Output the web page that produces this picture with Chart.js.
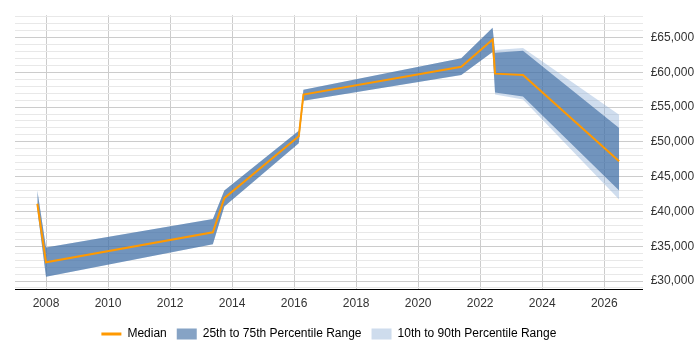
<!DOCTYPE html>
<html>
<head>
<meta charset="utf-8">
<script src="https://cdn.jsdelivr.net/npm/chart.js@4/dist/chart.umd.min.js"></script>
<style>
  html, body { margin: 0; padding: 0; background: #fff; }
  #wrap { width: 700px; height: 350px; position: relative; }
</style>
</head>
<body>
<div id="wrap"><canvas id="c" width="700" height="350"></canvas></div>
<script>
// Data
const years = [2007.72, 2008.0, 2013.38, 2013.75, 2016.15, 2016.30, 2021.39, 2022.40, 2022.48, 2023.38, 2026.48];
const median = [41100, 32700, 37000, 41900, 50800, 56800, 60800, 64700, 59800, 59600, 47200];
const p25 = [40200, 30600, 35300, 40700, 49800, 55900, 59600, 62900, 57100, 56500, 43000];
const p75 = [43000, 34800, 38900, 43000, 51600, 57500, 62000, 66400, 62800, 63100, 52000];
const p10 = [40200, 30600, 35300, 40700, 49800, 55900, 59600, 62900, 56800, 56100, 41700];
const p90 = [43000, 34800, 38900, 43000, 51600, 57500, 62000, 66400, 63200, 63500, 53900];
const xTicks = [2008, 2010, 2012, 2014, 2016, 2018, 2020, 2022, 2024, 2026];
const legendLabels = ['Median', '25th to 75th Percentile Range', '10th to 90th Percentile Range'];

const ORANGE = '#ff9900';
const DARK = 'rgba(39,91,151,0.56)';
const LIGHT = 'rgba(140,175,215,0.42)';

const pts = arr => arr.map((v, i) => ({ x: years[i], y: v }));
const FONT = { family: "'Liberation Sans', Arial, sans-serif", size: 12 };

function fmt(v) {
  const s = String(Math.round(v));
  return '£' + s.replace(/\B(?=(\d{3})+(?!\d))/g, ',');
}

new Chart(document.getElementById('c'), {
  type: 'line',
  data: {
    datasets: [
      { label: legendLabels[0], data: pts(median), borderColor: ORANGE, borderWidth: 2, pointRadius: 0, fill: false, tension: 0 },
      { label: legendLabels[1], data: pts(p75), borderWidth: 0, borderColor: 'rgba(0,0,0,0)', backgroundColor: DARK, pointRadius: 0, fill: 3, tension: 0 },
      { label: legendLabels[2], data: pts(p90), borderWidth: 0, borderColor: 'rgba(0,0,0,0)', backgroundColor: LIGHT, pointRadius: 0, fill: 4, tension: 0 },
      { label: 'p25', data: pts(p25), borderWidth: 0, borderColor: 'rgba(0,0,0,0)', pointRadius: 0, fill: false, tension: 0 },
      { label: 'p10', data: pts(p10), borderWidth: 0, borderColor: 'rgba(0,0,0,0)', pointRadius: 0, fill: false, tension: 0 }
    ]
  },
  options: {
    responsive: false,
    animation: false,
    layout: { padding: { top: 5, left: 15, right: 0, bottom: 0 } },
    plugins: {
      tooltip: { enabled: false },
      legend: {
        position: 'bottom',
        fullSize: false,
        labels: {
          usePointStyle: true,
          pointStyleWidth: 20,
          boxHeight: 11,
          padding: 10,
          color: '#333',
          font: FONT,
          generateLabels: () => [
            { text: legendLabels[0], fillStyle: ORANGE, strokeStyle: ORANGE, lineWidth: 3, pointStyle: 'line', datasetIndex: 0, hidden: false },
            { text: legendLabels[1], fillStyle: 'rgb(134,163,197)', strokeStyle: 'rgba(0,0,0,0)', lineWidth: 0, pointStyle: 'rect', datasetIndex: 1, hidden: false },
            { text: legendLabels[2], fillStyle: 'rgb(206,220,237)', strokeStyle: 'rgba(0,0,0,0)', lineWidth: 0, pointStyle: 'rect', datasetIndex: 2, hidden: false }
          ]
        }
      }
    },
    scales: {
      x: {
        type: 'linear',
        min: 2007.0,
        max: 2027.24,
        afterBuildTicks: s => { s.ticks = xTicks.map(v => ({ value: v })); },
        ticks: { font: FONT, color: '#333', padding: 7, maxRotation: 0, autoSkip: false, callback: v => String(v) },
        grid: { color: '#cccccc', lineWidth: 1, drawTicks: false },
        border: { display: true, color: '#000', width: 1 }
      },
      y: {
        position: 'right',
        min: 28765,
        max: 68200,
        afterBuildTicks: s => {
          const t = [];
          for (let v = 29000; v <= 68000; v += 1000) t.push({ value: v });
          s.ticks = t;
        },
        afterFit: s => { s.width = 57.3; },
        ticks: {
          font: FONT, color: '#333', padding: 8, autoSkip: false,
          callback: v => (v % 5000 === 0 ? fmt(v) : '')
        },
        grid: {
          drawTicks: false,
          color: c => (c.tick && c.tick.value % 5000 === 0 ? '#cccccc' : '#e8e8e8'),
          lineWidth: 1
        },
        border: { display: false }
      }
    }
  }
});
</script>
</body>
</html>
